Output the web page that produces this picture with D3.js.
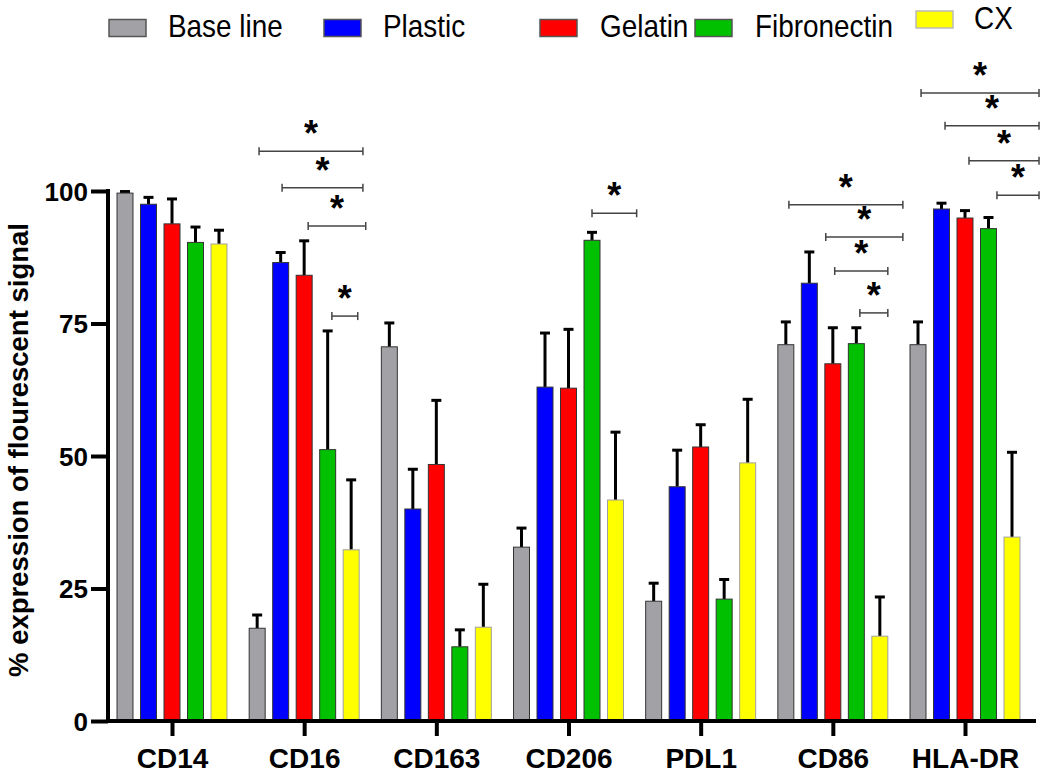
<!DOCTYPE html>
<html><head><meta charset="utf-8">
<script src="https://cdn.jsdelivr.net/npm/d3@7"></script>
<style>body{margin:0;background:#fff}svg{display:block}</style>
</head><body>
<script>
const categories = ["CD14","CD16","CD163","CD206","PDL1","CD86","HLA-DR"];
const seriesNames = ["Base line","Plastic","Gelatin","Fibronectin","CX"];
const seriesColors = ["#a2a1a6","#0000ff","#ff0000","#00c000","#ffff00"];
const baseLine   = [99.6, 17.5, 70.6, 32.8, 22.6, 71.0, 71.0];
const baseLineErr= [0.3, 2.5, 4.5, 3.6, 3.4, 4.3, 4.3];
const plastic    = [97.5, 86.5, 40.0, 63.0, 44.2, 82.6, 96.6];
const plasticErr = [1.3, 1.9, 7.5, 10.2, 6.9, 5.9, 1.1];
const gelatin    = [93.8, 84.1, 48.4, 62.8, 51.7, 67.4, 94.9];
const gelatinErr = [4.7, 6.5, 12.1, 11.1, 4.2, 6.8, 1.4];
const fibronectin    = [90.3, 51.2, 14.0, 90.7, 23.0, 71.2, 92.9];
const fibronectinErr = [2.9, 22.4, 3.2, 1.5, 3.7, 3.0, 2.1];
const cx    = [90.0, 32.3, 17.7, 41.7, 48.7, 16.0, 34.7];
const cxErr = [2.6, 13.2, 8.1, 12.8, 12.0, 7.4, 16.0];
const yTicks = [0, 25, 50, 75, 100];
// significance brackets: [category, from series slot, to series slot, level]
const brackets = [
  ["CD16", 0.08, 4.5, 107.5], ["CD16", 1.06, 4.5, 100.6], ["CD16", 2.17, 4.62, 93.4], ["CD16", 3.18, 4.28, 76.4],
  ["CD206", 3.0, 4.9, 95.8],
  ["CD86", 0.13, 4.98, 97.4], ["CD86", 1.7, 4.98, 91.3], ["CD86", 2.08, 4.34, 84.9], ["CD86", 3.15, 4.34, 77.0],
  ["HLA-DR", 0.13, 5.15, 118.5], ["HLA-DR", 1.15, 5.15, 112.3], ["HLA-DR", 2.17, 5.15, 105.7], ["HLA-DR", 3.36, 5.15, 99.2]
];
const values = [baseLine, plastic, gelatin, fibronectin, cx];
const errs = [baseLineErr, plasticErr, gelatinErr, fibronectinErr, cxErr];

const FONT = "Liberation Sans, Arial, sans-serif";
const W = 1050, H = 777;
const svg = d3.select("body").append("svg").attr("width", W).attr("height", H);
const axisX = 108, axisBottom = 721;
const y = d3.scaleLinear().domain([0, 100]).range([axisBottom, 191]);
const xc = d3.scalePoint().domain(categories).range([172, 965]);
const sub = d3.scaleBand().domain(seriesNames).range([-58.75, 58.75]).paddingInner(0.32).paddingOuter(0.16);
const slotX = (cat, s) => xc(cat) + sub(seriesNames[0]) + sub.bandwidth()/2 + s * sub.step();

// bars
seriesNames.forEach((s, si) => {
  const g = svg.append("g");
  categories.forEach((c, ci) => {
    const v = values[si][ci], e = errs[si][ci];
    const bx = xc(c) + sub(s);
    const cx0 = bx + sub.bandwidth()/2;
    g.append("line").attr("x1", cx0).attr("x2", cx0).attr("y1", y(v)).attr("y2", y(v + e))
      .attr("stroke", "#000").attr("stroke-width", 3);
    g.append("line").attr("x1", cx0 - 5).attr("x2", cx0 + 5).attr("y1", y(v + e)).attr("y2", y(v + e))
      .attr("stroke", "#000").attr("stroke-width", 3);
    g.append("rect").attr("x", bx).attr("y", y(v)).attr("width", sub.bandwidth()).attr("height", y(0) - y(v))
      .attr("fill", seriesColors[si]).attr("stroke", si === 4 ? "#a0a0a0" : "#333").attr("stroke-width", 1);
  });
});

// y axis
const yAxis = svg.append("g").attr("transform", `translate(${axisX},0)`)
  .call(d3.axisLeft(y).tickValues(yTicks).tickSize(17).tickPadding(3).tickFormat(d3.format("d")));
yAxis.select(".domain").attr("stroke-width", 4).attr("d", `M0,${y(100) - 2}V${axisBottom + 2}`);
yAxis.selectAll(".tick line").attr("stroke-width", 4);
yAxis.selectAll("text").attr("font-family", FONT).attr("font-weight", "bold").attr("font-size", 26).attr("dy", "0.36em");

// x axis
const xAxis = svg.append("g").attr("transform", `translate(0,${axisBottom})`)
  .call(d3.axisBottom(xc).tickSize(15).tickPadding(12));
xAxis.select(".domain").attr("stroke-width", 4).attr("d", `M${axisX - 2},0H1036`);
xAxis.selectAll(".tick line").attr("stroke-width", 4);
xAxis.selectAll("text").attr("font-family", FONT).attr("font-weight", "bold").attr("font-size", 28);

// y title
svg.append("text").attr("transform", `translate(28,450) rotate(-90)`)
  .attr("text-anchor", "middle").attr("font-family", FONT)
  .attr("font-weight", "bold").attr("font-size", 27.5).text("% expression of flourescent signal");

// brackets
brackets.forEach(([c, s1, s2, lv]) => {
  const x1 = slotX(c, s1), x2 = slotX(c, s2), yy = y(lv);
  const g = svg.append("g").attr("stroke", "#444").attr("stroke-width", 1.5);
  g.append("line").attr("x1", x1).attr("x2", x2).attr("y1", yy).attr("y2", yy);
  g.append("line").attr("x1", x1).attr("x2", x1).attr("y1", yy - 4).attr("y2", yy + 4);
  g.append("line").attr("x1", x2).attr("x2", x2).attr("y1", yy - 4).attr("y2", yy + 4);
  svg.append("text").attr("x", (x1 + x2)/2).attr("y", yy - 5).attr("text-anchor", "middle")
    .attr("font-family", FONT).attr("font-weight", "bold").attr("font-size", 36).text("*");
});

// legend
const legendX = [109, 324, 540, 695, 916];
const legendY = [19.5, 19.5, 19.5, 19.5, 11];
const legendTX = [168, 383, 600, 755, 974];
const legendBase = [37, 37, 37, 37, 29];
seriesNames.forEach((s, i) => {
  svg.append("rect").attr("x", legendX[i]).attr("y", legendY[i]).attr("width", 37).attr("height", 17)
    .attr("fill", seriesColors[i]).attr("stroke", i === 4 ? "#bbb" : "#555").attr("stroke-width", 1.5);
  svg.append("text").attr("transform", `translate(${legendTX[i]},${legendBase[i]}) scale(0.9,1)`)
    .attr("font-family", FONT).attr("font-size", 31).text(s);
});
</script>
</body></html>
